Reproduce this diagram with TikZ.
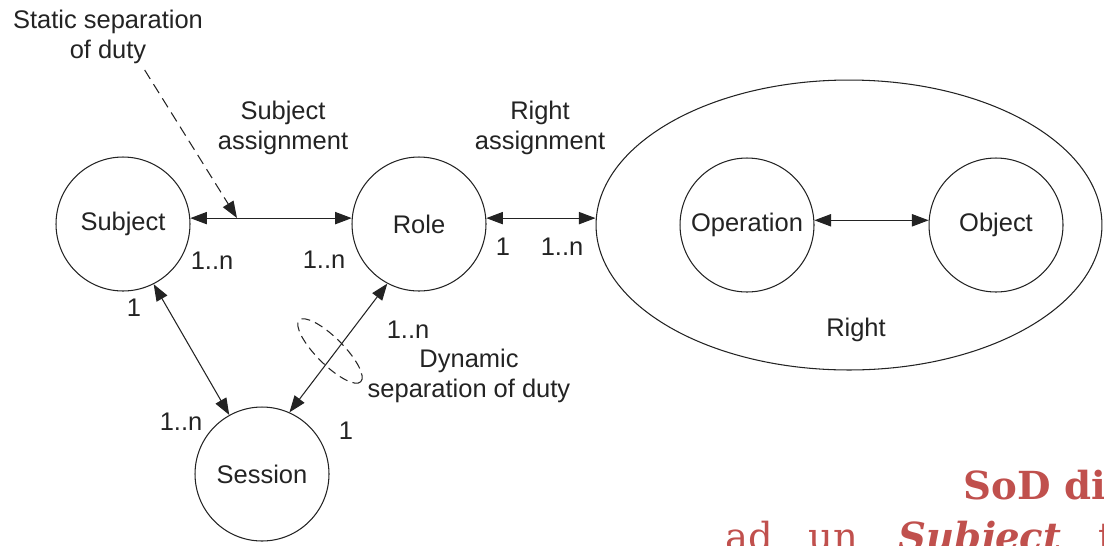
\documentclass[tikz,border=0pt]{standalone}
\usepackage{fontspec}
\setmainfont{Liberation Sans}
\newfontfamily\slidefont{DejaVu Serif}
\usetikzlibrary{arrows.meta,shapes.geometric}
\definecolor{linegray}{RGB}{35,35,35}
\definecolor{sodred}{RGB}{192,80,77}

\begin{document}
\begin{tikzpicture}[x=0.02cm,y=-0.02cm,
  font=\fontsize{14.5}{17}\selectfont,
  entity/.style={draw=linegray,circle,minimum size=2.68cm,inner sep=0pt,line width=0.6pt,text=linegray},
  link/.style={draw=linegray,line width=0.6pt,{Triangle[length=9.5pt,width=7pt]}-{Triangle[length=9.5pt,width=7pt]}},
  card/.style={inner sep=1pt,text=linegray},
  lbl/.style={align=center,text=linegray}]
  \useasboundingbox (0,0) rectangle (1104,545);
  \clip (0,0) rectangle (1104,545);

  % Right (big ellipse) with its parts
  \node[draw=linegray,ellipse,line width=0.6pt,minimum width=10.12cm,minimum height=5.8cm] (right) at (849,225) {};
  \node[entity] (operation) at (747,225) {Operation};
  \node[entity] (object) at (996,225) {Object};
  \node[lbl] (rightlbl) at (856,330) {Right};

  % Subject, Role, Session
  \node[entity] (subject) at (123,224) {Subject};
  \node[entity] (role) at (419,224) {Role};
  \node[entity] (session) at (262,474) {Session};

  % Assignments
  \draw[link] (subject.5) -- (role.175);
  \draw[link] (role.5) -- (role.5 -| right.west);
  \draw[link] (operation.4) -- (object.176);
  \draw[link] (subject.-63) -- (session.119);
  \draw[link] (role.-118) -- (session.66);

  \node[lbl] (subjassign) at (283,128) {Subject\\assignment};
  \node[lbl] (rightassign) at (540,128) {Right\\assignment};

  % Static separation of duty
  \node[lbl] (ssdlabel) at (108,37) {Static separation\\of duty};
  \coordinate (ssdhit) at (237,218);
  \draw[draw=linegray,line width=0.6pt,dash pattern=on 6pt off 3.5pt,-{Triangle[length=9.5pt,width=7pt]}] (ssdlabel.-42) -- (ssdhit);

  % Dynamic separation of duty
  \node[draw=linegray,dash pattern=on 5pt off 3pt,ellipse,line width=0.6pt,minimum width=1.74cm,minimum height=0.54cm,rotate=-45] (dsod) at (330,351) {};
  \node[lbl] (dsodlabel) at (469,376) {Dynamic\\separation of duty};

  % Cardinalities
  \node[card] (c1) at (212,261) {1..n};
  \node[card] (c2) at (324,260) {1..n};
  \node[card] (c3) at (503,247) {1};
  \node[card] (c4) at (562,247) {1..n};
  \node[card] (c5) at (134,308) {1};
  \node[card] (c6) at (181,422) {1..n};
  \node[card] (c7) at (346,431) {1};
  \node[card] (c8) at (408,330) {1..n};

  % Slide text behind
  \node[anchor=base west,inner sep=0pt,text=sodred,font=\slidefont\bfseries\fontsize{22}{26}\selectfont] (sodtitle) at (963,499) {SoD di};
  \node[anchor=base west,inner sep=0pt,text=sodred,font=\slidefont\fontsize{22}{26}\selectfont] (sodad) at (725,550) {ad};
  \node[anchor=base west,inner sep=0pt,text=sodred,font=\slidefont\fontsize{22}{26}\selectfont] (sodun) at (808,550) {un};
  \node[anchor=base west,inner sep=0pt,text=sodred,font=\slidefont\bfseries\itshape\fontsize{22}{26}\selectfont] (sodsubj) at (898,550) {Subject};
  \node[anchor=base west,inner sep=0pt,text=sodred,font=\slidefont\fontsize{22}{26}\selectfont] (sodt) at (1098,550) {t};
\end{tikzpicture}
\end{document}
